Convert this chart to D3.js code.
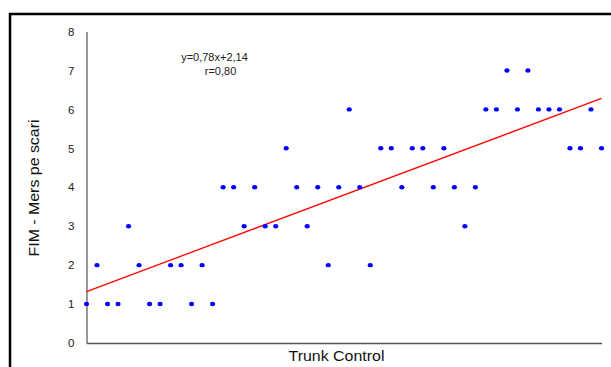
<!DOCTYPE html>
<html>
<head>
<meta charset="utf-8">
<script src="https://cdn.jsdelivr.net/npm/d3@7"></script>
<style>
  body { margin: 0; background: #fff; }
  svg { display: block; font-family: "Liberation Sans", Arial, sans-serif; }
</style>
</head>
<body>
<svg id="chart"></svg>
<script>
// FIM - Mers pe scari score per subject, ordered by Trunk Control
const fimValues = [1, 2, 1, 1, 3, 2, 1, 1, 2, 2, 1, 2, 1, 4, 4, 3, 4, 3, 3, 5,
  4, 3, 4, 2, 4, 6, 4, 2, 5, 5, 4, 5, 5, 4, 5, 4, 3, 4, 6, 6,
  7, 6, 7, 6, 6, 6, 5, 5, 6, 5];
const subjects = fimValues.map((d, i) => i + 1);
const yTicks = [0, 1, 2, 3, 4, 5, 6, 7, 8];
// trend line values at the first and last subject (as drawn)
const trendValues = [1.32, 6.28];
const equationLines = ["y=0,78x+2,14", "r=0,80"];

const width = 611, height = 367;
const svg = d3.select("#chart").attr("width", width).attr("height", height);

// outer frame (cropped on the right and bottom)
svg.append("rect")
  .attr("x", 10).attr("y", 14)
  .attr("width", 700).attr("height", 400)
  .attr("fill", "none")
  .attr("stroke", "#000")
  .attr("stroke-width", 2.5);

const x = d3.scaleLinear().domain([1, 50]).range([86.5, 601.5]);
const y = d3.scaleLinear().domain([0, 8]).range([343, 31.5]);

// y axis
const yAxis = svg.append("g")
  .attr("transform", "translate(86.5,0)")
  .call(d3.axisLeft(y).tickValues(yTicks).tickSize(0).tickSizeOuter(0).tickPadding(12));
yAxis.select(".domain").attr("stroke", "#333").attr("stroke-width", 1);
yAxis.selectAll("text")
  .attr("font-family", "Liberation Sans, Arial, sans-serif")
  .attr("font-size", 11.5)
  .attr("fill", "#222");

// x axis (line only)
const xAxis = svg.append("g")
  .attr("transform", "translate(0,343)")
  .call(d3.axisBottom(x).tickValues([]).tickSizeOuter(0));
xAxis.select(".domain").attr("stroke", "#555").attr("stroke-width", 1.5);

// trend line
svg.append("line")
  .attr("x1", x(subjects[0]))
  .attr("y1", y(trendValues[0]))
  .attr("x2", x(subjects[subjects.length - 1]))
  .attr("y2", y(trendValues[1]))
  .attr("stroke", "#ff0000")
  .attr("stroke-width", 1.3);

// points
svg.append("g")
  .selectAll("ellipse")
  .data(fimValues)
  .enter()
  .append("ellipse")
  .attr("cx", (d, i) => x(subjects[i]))
  .attr("cy", d => y(d))
  .attr("rx", 2.6)
  .attr("ry", 2.2)
  .attr("fill", "#0000ff");

// equation
svg.append("text")
  .attr("x", 214.5).attr("y", 61)
  .attr("text-anchor", "middle")
  .attr("font-size", 11)
  .attr("fill", "#222")
  .text(equationLines[0]);
svg.append("text")
  .attr("x", 220.5).attr("y", 75)
  .attr("text-anchor", "middle")
  .attr("font-size", 11)
  .attr("fill", "#222")
  .text(equationLines[1]);

// axis titles
svg.append("text")
  .attr("x", 336.5).attr("y", 360.5)
  .attr("text-anchor", "middle")
  .attr("font-size", 14)
  .attr("textLength", 96)
  .attr("lengthAdjust", "spacingAndGlyphs")
  .attr("fill", "#111")
  .text("Trunk Control");

svg.append("text")
  .attr("transform", "translate(38.5,188) rotate(-90)")
  .attr("text-anchor", "middle")
  .attr("font-size", 14)
  .attr("textLength", 137)
  .attr("lengthAdjust", "spacingAndGlyphs")
  .attr("fill", "#111")
  .text("FIM - Mers pe scari");
</script>
</body>
</html>
